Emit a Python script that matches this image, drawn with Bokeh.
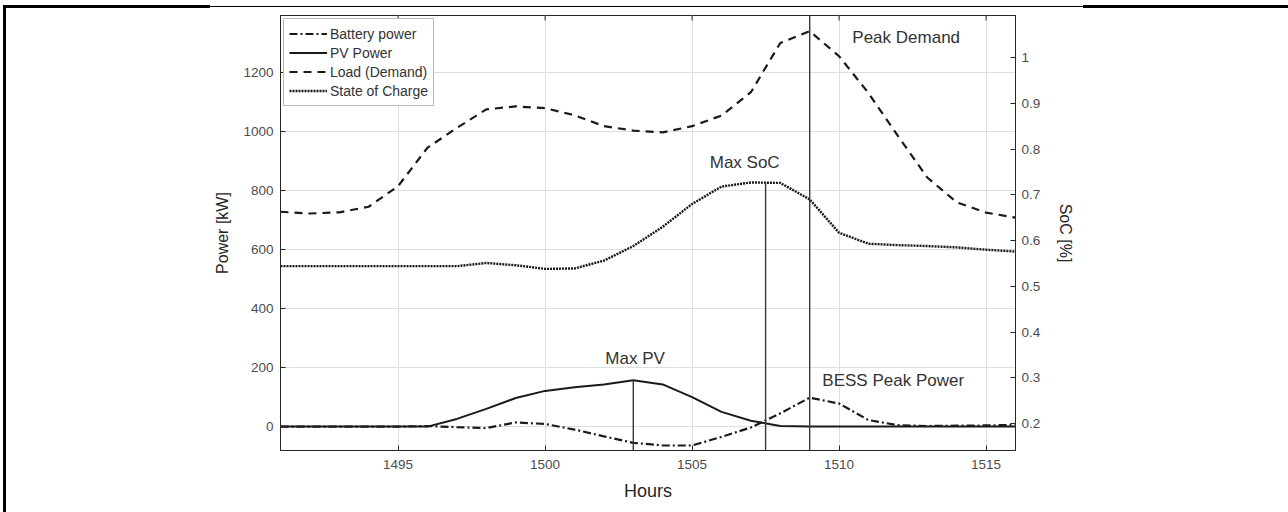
from bokeh.plotting import figure
from bokeh.models import Range1d, LinearAxis, FixedTicker, ColumnDataSource
from bokeh.core.properties import value
from bokeh.embed import file_html
from bokeh.resources import INLINE

# ---------------- data ----------------
hours = list(range(1491, 1517))
battery_kw = [0, 0, 0, 0, 0, 2, -2, -5, 14, 9, -10, -33, -55, -64, -64, -35,
              -3, 45, 98, 78, 22, 5, 2, 3, 4, 6]
pv_kw = [0, 0, 0, 0, 0, 0, 26, 60, 97, 121, 133, 143, 157, 143, 100, 50,
         20, 2, 0, 0, 0, 0, 0, 0, 0, 0]
load_kw = [728, 722, 726, 745, 815, 945, 1012, 1075, 1085, 1079, 1055, 1018,
           1003, 997, 1018, 1054, 1133, 1300, 1340, 1255, 1130, 985, 844, 760,
           725, 708]
soc = [0.544, 0.544, 0.544, 0.544, 0.544, 0.544, 0.544, 0.551, 0.546, 0.538,
       0.539, 0.556, 0.588, 0.630, 0.680, 0.718, 0.727, 0.726, 0.690, 0.617,
       0.593, 0.590, 0.588, 0.585, 0.580, 0.576]

series_names = ["Battery power", "PV Power", "Load (Demand)", "State of Charge"]

x_ticks = [1495, 1500, 1505, 1510, 1515]
power_ticks = [0, 200, 400, 600, 800, 1000, 1200]
soc_ticks = [0.2, 0.3, 0.4, 0.5, 0.6, 0.7, 0.8, 0.9, 1.0]
soc_tick_labels = ["0.2", "0.3", "0.4", "0.5", "0.6", "0.7", "0.8", "0.9", "1"]

x_limits = [1491, 1516]
power_limits = [-81, 1393]
soc_limits = [0.141, 1.092]

# markers: Max PV, Max SoC, Peak Demand
max_pv_hour = 1503
max_soc_hour = 1507.5
max_soc_value = 0.727
peak_demand_hour = 1509

annot_text = ["Max PV", "Max SoC", "Peak Demand", "BESS Peak Power"]
annot_x = [1502.05, 1505.6, 1510.45, 1509.43]
annot_y = [232, 895, 1319, 156]

# ---------------- figure ----------------
FONT = "Liberation Sans"
INK = "#1a1a1a"

p = figure(width=1288, height=512, output_backend="svg", toolbar_location=None,
           x_range=Range1d(*x_limits), y_range=Range1d(*power_limits),
           min_border_left=280, min_border_right=273, min_border_top=15,
           min_border_bottom=62)
p.extra_y_ranges = {"soc": Range1d(*soc_limits)}
p.background_fill_color = "white"
p.border_fill_alpha = 0.0
p.outline_line_color = "#262626"
p.outline_line_width = 1

# page frame lines (black rules round the figure), drawn behind the canvas
p.styles = {
    "background-color": "white",
    "background-image": ("linear-gradient(#000,#000), linear-gradient(#000,#000), "
                         "linear-gradient(#000,#000), linear-gradient(#000,#000)"),
    "background-position": "3px 5px, 3px 5px, 210px 6px, 1083px 5px",
    "background-size": "3px 507px, 207px 3px, 873px 1px, 205px 3px",
    "background-repeat": "no-repeat",
}

def style_axis(ax):
    ax.major_tick_in = 5
    ax.major_tick_out = 0
    ax.minor_tick_line_color = None
    ax.axis_line_color = "#262626"
    ax.major_tick_line_color = "#262626"
    ax.major_label_text_font = FONT
    ax.major_label_text_font_size = "13.5px"
    ax.major_label_text_color = "#4d4d4d"
    ax.axis_label_text_font = FONT
    ax.axis_label_text_font_size = "16px"
    ax.axis_label_text_font_style = "normal"
    ax.axis_label_text_color = "#262626"

xa = p.xaxis[0]
style_axis(xa)
xa.ticker = FixedTicker(ticks=x_ticks)
xa.axis_label = "Hours"
xa.axis_label_text_font_size = "18px"
xa.major_label_standoff = 9
xa.axis_label_standoff = 9

ya = p.yaxis[0]
style_axis(ya)
ya.ticker = FixedTicker(ticks=power_ticks)
ya.axis_label = "Power [kW]"
ya.major_label_standoff = 7
ya.axis_label_standoff = 9

ra = LinearAxis(y_range_name="soc", axis_label="SoC [%]")
style_axis(ra)
ra.ticker = FixedTicker(ticks=soc_ticks)
ra.major_label_overrides = {t: l for t, l in zip(soc_ticks, soc_tick_labels)}
ra.major_label_standoff = 6
ra.axis_label_standoff = 14
p.add_layout(ra, "right")

p.xgrid.ticker = FixedTicker(ticks=x_ticks)
p.ygrid.ticker = FixedTicker(ticks=power_ticks)
for g in (p.xgrid[0], p.ygrid[0]):
    g.grid_line_color = "#dedede"
    g.grid_line_width = 1

# inward ticks on the top edge of the box
top_tick_len = (power_limits[1] - power_limits[0]) * 5 / 435
p.segment(x0=x_ticks, y0=[power_limits[1]] * len(x_ticks), x1=x_ticks,
          y1=[power_limits[1] - top_tick_len] * len(x_ticks),
          line_color="#262626", line_width=1)

src = ColumnDataSource(dict(h=hours, bat=battery_kw, pv=pv_kw, load=load_kw, soc=soc))

p.line("h", "bat", source=src, line_color=INK, line_width=2.2,
       line_dash="8 3 2 3", legend_label=series_names[0])
p.line("h", "pv", source=src, line_color=INK, line_width=2,
       legend_label=series_names[1])
p.line("h", "load", source=src, line_color=INK, line_width=2.2,
       line_dash="8 6", legend_label=series_names[2])
p.line("h", "soc", source=src, line_color=INK, line_width=2.4,
       line_dash="2 1", y_range_name="soc", legend_label=series_names[3])

# marker lines
MK = "#3a3a3a"
p.segment(x0=[max_pv_hour], y0=[power_limits[0]], x1=[max_pv_hour],
          y1=[max(pv_kw)], line_color=MK, line_width=1.4)
p.segment(x0=[max_soc_hour], y0=[soc_limits[0]], x1=[max_soc_hour],
          y1=[max_soc_value], line_color=MK, line_width=1.4, y_range_name="soc")
p.segment(x0=[peak_demand_hour], y0=[power_limits[0]], x1=[peak_demand_hour],
          y1=[power_limits[1]], line_color=MK, line_width=1.4)

p.text(x=annot_x, y=annot_y, text=annot_text, text_font=value(FONT),
       text_font_size=value("17px"), text_color="#333333",
       text_align="left", text_baseline="middle")

lg = p.legend[0]
lg.location = "top_left"
lg.margin = 3
lg.padding = 5
lg.spacing = 0
lg.glyph_width = 38
lg.glyph_height = 19
lg.label_height = 19
lg.label_standoff = 3
lg.label_text_font = FONT
lg.label_text_font_size = "14px"
lg.label_text_color = "#333333"
lg.border_line_color = "#777777"
lg.border_line_width = 1
lg.background_fill_alpha = 1.0

open("out.html", "w").write(file_html(p, INLINE))
